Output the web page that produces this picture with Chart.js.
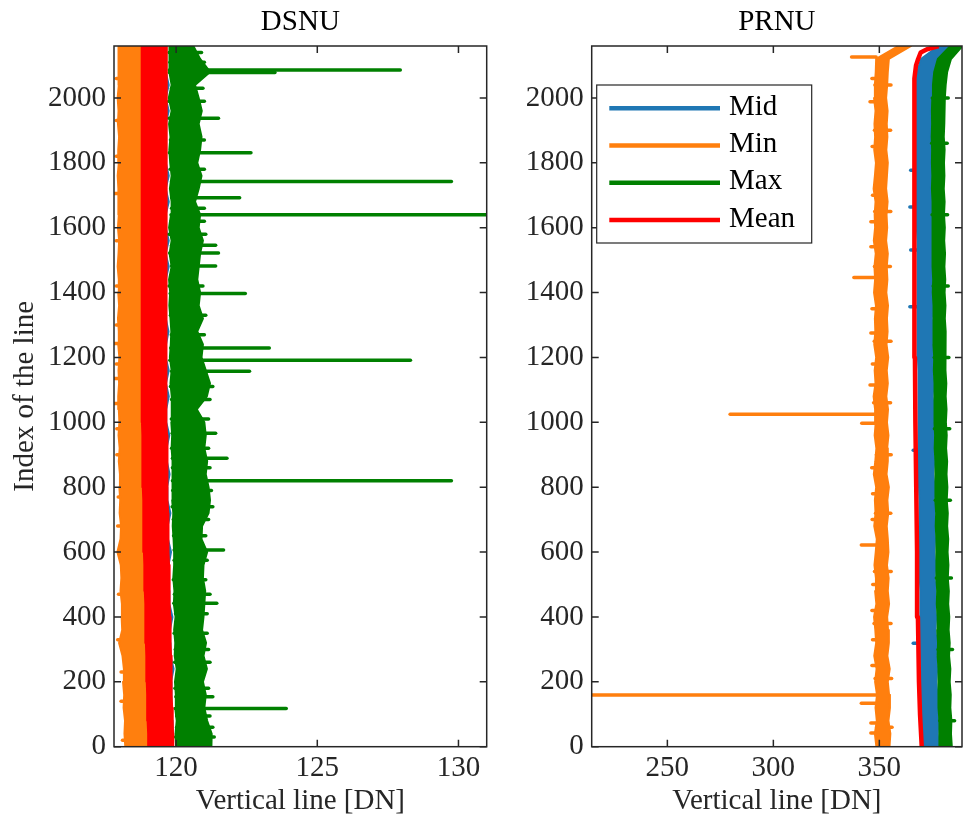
<!DOCTYPE html>
<html>
<head>
<meta charset="utf-8">
<title>DSNU / PRNU</title>
<script src="https://cdn.jsdelivr.net/npm/chart.js@4.4.1/dist/chart.umd.min.js"></script>
<style>
  body { margin: 0; background: #fff; }
  #wrap { position: relative; width: 963px; height: 825px; }
  #left { position: absolute; left: 0; top: 0; }
  #right { position: absolute; left: 500px; top: 0; }
</style>
</head>
<body>
<div id="wrap">
  <canvas id="left" width="500" height="825"></canvas>
  <canvas id="right" width="463" height="825"></canvas>
</div>
<script>
//-----------------------------------------------
// data
//-----------------------------------------------
const seriesNames = ['Mid', 'Min', 'Max', 'Mean'];
const seriesColors = ['#1f77b4', '#ff7f0e', '#008000', '#ff0000'];

const yTicks = [0, 200, 400, 600, 800, 1000, 1200, 1400, 1600, 1800, 2000];
const dsnuTicks = [120, 125, 130];
const prnuTicks = [250, 300, 350];

// line index of every sample of the band edges
const rows = [
  0, 40, 80, 120, 160, 200, 240, 280, 320, 360, 400,
  440, 480, 520, 560, 600, 640, 680, 720, 760, 800, 840,
  880, 920, 960, 1000, 1040, 1080, 1120, 1160, 1200, 1240, 1280,
  1320, 1360, 1400, 1440, 1480, 1520, 1560, 1600, 1640, 1680, 1720,
  1760, 1800, 1840, 1880, 1920, 1960, 2000, 2040, 2080, 2120, 2160
];

// DSNU : left / right edge of every noisy curve [DN]
const dsnuMinLo = [
  118.20, 118.17, 118.19, 118.14, 118.16, 118.12, 118.15, 118.10, 117.98, 118.09, 118.07,
  118.08, 118.03, 118.06, 118.04, 117.92, 118.03, 118.05, 118.00, 118.02, 117.99, 118.01,
  117.97, 118.00, 117.96, 117.99, 117.97, 117.95, 117.98, 117.96, 117.99, 117.95, 117.97,
  117.94, 117.98, 117.95, 117.97, 117.93, 117.96, 117.98, 117.94, 117.97, 117.95, 117.96,
  117.93, 117.97, 117.95, 117.98, 117.94, 117.96, 117.93, 117.97, 117.95, 117.96, 117.97
];
const dsnuMinHi = [
  119.12, 119.11, 119.10, 119.09, 119.08, 119.07, 119.06, 119.05, 119.04, 119.03, 119.02,
  119.01, 119.00, 118.99, 118.98, 118.97, 118.96, 118.95, 118.94, 118.93, 118.93, 118.92,
  118.91, 118.91, 118.90, 118.90, 118.89, 118.89, 118.88, 118.88, 118.88, 118.88, 118.88,
  118.88, 118.88, 118.88, 118.88, 118.88, 118.88, 118.88, 118.88, 118.88, 118.88, 118.88,
  118.88, 118.88, 118.88, 118.88, 118.88, 118.88, 118.88, 118.88, 118.88, 118.88, 118.88
];
const dsnuMidLo = [
  119.06, 119.05, 119.04, 119.03, 119.02, 119.01, 119.00, 118.99, 118.98, 118.97, 118.96,
  118.95, 118.94, 118.93, 118.92, 118.91, 118.90, 118.89, 118.88, 118.88, 118.87, 118.86,
  118.86, 118.85, 118.85, 118.84, 118.84, 118.83, 118.84, 118.83, 118.83, 118.84, 118.83,
  118.83, 118.83, 118.83, 118.83, 118.83, 118.83, 118.83, 118.83, 118.83, 118.83, 118.83,
  118.83, 118.83, 118.83, 118.83, 118.83, 118.83, 118.83, 118.83, 118.83, 118.83, 118.83
];
const dsnuMidHi = [
  119.88, 119.87, 119.86, 119.84, 119.83, 119.82, 119.91, 119.80, 119.79, 119.78, 119.87,
  119.76, 119.75, 119.74, 119.73, 119.82, 119.71, 119.70, 119.80, 119.69, 119.68, 119.77,
  119.67, 119.66, 119.76, 119.65, 119.65, 119.74, 119.64, 119.74, 119.63, 119.64, 119.73,
  119.63, 119.64, 119.63, 119.63, 119.74, 119.63, 119.74, 119.63, 119.63, 119.74, 119.63,
  119.74, 119.63, 119.63, 119.64, 119.63, 119.74, 119.63, 119.74, 119.63, 119.64, 119.65
];
const dsnuMaxLo = [
  120.00, 119.98, 120.02, 119.97, 119.99, 119.96, 120.02, 119.95, 119.97, 119.93, 119.98,
  119.92, 119.94, 119.90, 119.93, 119.93, 119.91, 119.88, 119.90, 119.86, 119.88, 119.87,
  119.87, 119.84, 119.86, 119.83, 119.85, 119.84, 119.80, 119.84, 119.78, 119.81, 119.83,
  119.80, 119.76, 119.79, 119.75, 119.84, 119.77, 119.84, 119.75, 119.82, 119.84, 119.78,
  119.84, 119.79, 119.76, 119.80, 119.75, 119.84, 119.74, 119.84, 119.76, 119.78, 119.75
];
const dsnuMaxHi = [
  121.25, 121.26, 121.10, 121.00, 121.05, 120.95, 121.09, 120.97, 121.06, 120.92, 120.97,
  121.00, 121.03, 120.95, 120.97, 121.10, 120.90, 120.92, 121.15, 121.20, 121.15, 121.05,
  121.10, 121.00, 121.05, 121.00, 120.73, 121.09, 121.20, 121.05, 120.90, 120.95, 120.75,
  120.95, 120.80, 120.85, 120.75, 120.80, 120.85, 120.95, 120.80, 120.85, 120.67, 120.80,
  120.90, 120.75, 120.85, 120.90, 120.80, 120.91, 120.80, 120.67, 121.20, 120.85, 120.61
];
const dsnuMeanLo = [
  119.02, 119.01, 118.99, 118.98, 118.97, 118.96, 118.95, 118.94, 118.93, 118.92, 118.91,
  118.90, 118.89, 118.88, 118.87, 118.86, 118.85, 118.84, 118.83, 118.83, 118.82, 118.81,
  118.81, 118.80, 118.80, 118.79, 118.79, 118.78, 118.79, 118.78, 118.78, 118.79, 118.78,
  118.78, 118.79, 118.78, 118.78, 118.77, 118.78, 118.79, 118.78, 118.78, 118.77, 118.78,
  118.78, 118.79, 118.78, 118.77, 118.78, 118.78, 118.79, 118.78, 118.77, 118.78, 118.78
];
const dsnuMeanHi = [
  119.90, 119.89, 119.88, 119.86, 119.85, 119.84, 119.83, 119.82, 119.81, 119.80, 119.79,
  119.78, 119.77, 119.76, 119.75, 119.74, 119.73, 119.72, 119.72, 119.71, 119.70, 119.69,
  119.69, 119.68, 119.68, 119.67, 119.67, 119.66, 119.66, 119.66, 119.65, 119.66, 119.65,
  119.65, 119.66, 119.65, 119.65, 119.66, 119.65, 119.66, 119.65, 119.65, 119.66, 119.65,
  119.66, 119.65, 119.65, 119.66, 119.65, 119.66, 119.65, 119.66, 119.65, 119.66, 119.67
];
// single-line outliers [line index, DN]
const dsnuMaxSpikes = [
  [118, 123.9], [154, 121.3], [442, 121.44], [606, 121.68], [820, 129.75], [889, 121.8],
  [966, 121.4], [1157, 122.6], [1191, 128.3], [1229, 123.3], [1397, 122.45], [1482, 121.4],
  [1522, 121.5], [1546, 121.4], [1640, 131.0], [1692, 122.25], [1742, 129.75], [1831, 122.65],
  [1937, 121.5], [2078, 123.5], [2086, 127.94],
  [30, 121.35], [60, 121.3], [95, 121.2], [180, 121.15], [260, 121.2], [300, 121.15],
  [350, 121.1], [410, 121.1], [470, 121.2], [515, 121.05], [575, 121.1], [650, 121.05],
  [700, 121.15], [740, 121.3], [790, 121.25], [860, 121.2], [920, 121.15], [1010, 121.15],
  [1070, 121.2], [1110, 121.3], [1270, 121.0], [1330, 121.05], [1420, 120.95], [1580, 121.05],
  [1620, 121.0], [1660, 121.0], [1780, 121.0], [1870, 121.0], [1990, 121.0], [2030, 120.95],
  [2110, 121.0], [2140, 120.9]
];
const dsnuMinSpikes = [
  [1058, 117.8], [1135, 117.8], [1243, 117.8], [1705, 117.8],
  [20, 118.1], [140, 118.05], [230, 118.05], [330, 117.93], [470, 117.96], [680, 117.93],
  [770, 117.95], [900, 117.9], [980, 117.9], [1180, 117.88], [1300, 117.88], [1420, 117.88],
  [1560, 117.88], [1820, 117.88], [1930, 117.88], [2060, 117.88]
];

// PRNU : left / right edge of every noisy curve [DN]
const prnuMinLo = [
  348.6, 347.9, 348.8, 348.2, 348.9, 348.0, 348.7, 347.6, 348.5, 348.1, 347.5,
  348.6, 348.0, 348.4, 347.7, 348.3, 348.8, 347.6, 348.2, 347.9, 348.5, 347.4,
  348.1, 348.6, 347.8, 348.3, 348.0, 347.3, 348.2, 347.8, 348.5, 347.6, 348.1,
  347.9, 348.4, 347.5, 348.0, 347.7, 348.3, 347.4, 348.0, 347.8, 348.2, 347.3,
  347.9, 348.4, 347.6, 348.0, 347.7, 348.2, 347.5, 347.9, 348.3, 348.5, 359.0
];
const prnuMinHi = [
  354.8, 355.2, 354.3, 355.0, 354.6, 354.0, 354.9, 353.8, 354.5, 354.1, 353.7,
  354.6, 354.0, 354.4, 353.6, 354.3, 354.0, 353.5, 354.2, 353.8, 354.5, 353.4,
  354.0, 353.7, 354.3, 353.6, 354.1, 353.3, 354.0, 353.5, 354.2, 353.4, 353.9,
  353.6, 354.1, 353.3, 353.8, 353.5, 354.0, 353.2, 353.7, 353.4, 353.9, 353.2,
  353.6, 354.0, 353.3, 353.8, 353.5, 353.9, 353.2, 353.7, 354.0, 354.5, 365.0
];
const prnuMidLo = [
  370.8, 370.5, 370.4, 370.1, 370.0, 369.8, 369.7, 369.6, 369.5, 369.4, 369.3,
  369.3, 369.2, 369.1, 369.1, 369.0, 368.9, 368.9, 368.8, 368.8, 368.7, 368.7,
  368.6, 368.6, 368.5, 368.5, 368.4, 368.4, 368.3, 368.3, 368.2, 368.2, 368.1,
  368.1, 368.0, 368.0, 367.9, 367.9, 367.8, 367.8, 367.7, 367.7, 367.6, 367.6,
  367.6, 367.5, 367.5, 367.5, 367.4, 367.4, 367.5, 367.6, 367.9, 369.6, 378.0
];
const prnuMidHi = [
  377.9, 377.6, 377.8, 377.2, 377.4, 376.9, 377.3, 376.7, 377.0, 376.5, 376.8,
  376.3, 376.6, 376.1, 376.4, 376.0, 376.3, 375.8, 376.1, 375.7, 376.0, 375.5,
  375.9, 375.4, 375.7, 375.3, 375.6, 375.2, 375.5, 375.0, 375.4, 374.9, 375.2,
  374.8, 375.1, 374.7, 375.0, 374.6, 374.9, 374.5, 374.8, 374.4, 374.7, 374.3,
  374.7, 374.4, 374.6, 374.2, 374.5, 374.3, 374.6, 374.8, 375.4, 377.2, 384.0
];
const prnuMaxLo = [
  378.4, 378.2, 378.5, 377.9, 378.1, 377.7, 377.9, 377.5, 377.7, 377.3, 377.5,
  377.1, 377.3, 376.9, 377.1, 376.8, 376.9, 376.6, 376.8, 376.4, 376.6, 376.3,
  376.5, 376.1, 376.3, 376.0, 376.2, 375.9, 376.0, 375.7, 375.9, 375.5, 375.7,
  375.4, 375.6, 375.2, 375.4, 375.1, 375.3, 375.0, 375.2, 374.9, 375.1, 374.8,
  375.0, 374.8, 374.9, 374.7, 374.9, 374.8, 375.0, 375.3, 375.9, 377.6, 383.5
];
const prnuMaxHi = [
  384.2, 383.8, 384.0, 383.5, 383.7, 383.2, 383.5, 382.9, 383.2, 382.7, 383.0,
  382.5, 382.8, 382.3, 382.6, 382.2, 382.5, 382.0, 382.3, 381.8, 382.1, 381.7,
  382.0, 381.5, 381.8, 381.4, 381.7, 381.3, 381.6, 381.2, 381.4, 381.0, 381.3,
  380.9, 381.2, 380.8, 381.1, 380.7, 381.0, 380.6, 380.9, 380.5, 380.8, 380.4,
  380.7, 380.5, 380.8, 380.4, 380.7, 380.6, 380.9, 381.3, 382.0, 383.8, 389.2
];
// the PRNU mean is a smooth curve
const prnuMeanRows = [0, 100, 200, 400, 600, 800, 1000, 1200, 1400, 1600, 1800, 2000, 2060, 2100, 2120, 2140, 2150, 2160];
const prnuMean = [370.0, 369.2, 368.7, 368.2, 367.8, 367.4, 367.0, 366.8, 366.6, 366.5, 366.4, 366.5, 366.7, 367.3, 368.3, 369.5, 372.5, 378.0];
const prnuMinSpikes = [
  [42, 346], [73, 346], [134, 341.5], [159, 214.3], [622, 341.5], [997, 341.7], [1025, 279.6],
  [1115, 345.6], [1275, 346], [1446, 338], [1541, 346], [1618, 346], [1988, 345.6], [2126, 336.9],
  [250, 346.5], [330, 346.8], [420, 346.5], [500, 346.9], [700, 346.6], [780, 346.8], [860, 346.4],
  [1180, 346.7], [1350, 346.5], [1700, 346.8], [1850, 346.6], [2060, 346.5]
];
const prnuMinBumps = [
  [60, 356.0], [210, 355.8], [380, 355.5], [540, 355.6], [720, 355.4], [900, 355.6],
  [1060, 355.3], [1250, 355.5], [1480, 355.2], [1650, 355.4], [1900, 355.3], [2040, 355.5]
];
const prnuMaxBumps = [
  [80, 385.5], [300, 384.5], [520, 384.0], [760, 383.5], [980, 383.2], [1200, 382.8],
  [1420, 382.5], [1640, 382.2], [1860, 382.0], [2000, 382.5]
];
const prnuMidSpikes = [[319, 366.0], [914, 366.0], [1356, 364.4], [1531, 364.8], [1664, 364.4], [1777, 364.8]];

//-----------------------------------------------
// helpers
//-----------------------------------------------
const FONT = 'Liberation Serif';
const AXIS = '#262626';

// up the left edge, back down the right edge -> filled band
function band(lo, hi, k, order) {
  var pts = [];
  for (var i = 0; i < rows.length; i++) pts.push({x: lo[i], y: rows[i]});
  for (var j = rows.length - 1; j >= 0; j--) pts.push({x: hi[j], y: rows[j]});
  return {
    label: seriesNames[k], data: pts, order: order,
    borderColor: seriesColors[k], backgroundColor: seriesColors[k],
    borderWidth: 2, borderJoinStyle: 'round', fill: 'shape', pointRadius: 0
  };
}

// one short horizontal stroke per outlier, starting inside the band
function spikes(list, edge, k, order) {
  return list.map(function (s) {
    var base = edge[Math.round(s[0] / 40)];
    return {
      data: [{x: base, y: s[0]}, {x: s[1], y: s[0]}], order: order,
      borderColor: seriesColors[k], borderWidth: 3.5, borderCapStyle: 'round',
      fill: false, pointRadius: 0
    };
  });
}

const frame = {
  id: 'frame',
  afterDatasetsDraw(chart) {
    var ctx = chart.ctx, a = chart.chartArea, sx = chart.scales.x, sy = chart.scales.y;
    ctx.save();
    ctx.strokeStyle = AXIS;
    ctx.lineWidth = 1.5;
    ctx.beginPath();
    sx.ticks.forEach(function (t) {
      var p = sx.getPixelForValue(t.value);
      ctx.moveTo(p, a.bottom); ctx.lineTo(p, a.bottom - 7);
      ctx.moveTo(p, a.top); ctx.lineTo(p, a.top + 7);
    });
    sy.ticks.forEach(function (t) {
      var p = sy.getPixelForValue(t.value);
      ctx.moveTo(a.left, p); ctx.lineTo(a.left + 7, p);
      ctx.moveTo(a.right, p); ctx.lineTo(a.right - 7, p);
    });
    ctx.stroke();
    ctx.strokeRect(a.left, a.top, a.right - a.left, a.bottom - a.top);
    ctx.restore();
  }
};

const panelTitle = {
  id: 'panelTitle',
  afterDraw(chart, args, opts) {
    var ctx = chart.ctx, a = chart.chartArea;
    ctx.save();
    ctx.fillStyle = '#000';
    ctx.font = '29px "' + FONT + '"';
    ctx.textAlign = 'center';
    ctx.textBaseline = 'alphabetic';
    ctx.fillText(opts.text, (a.left + a.right) / 2, 30);
    ctx.restore();
  }
};

const keyBox = {
  id: 'keyBox',
  afterDraw(chart, args, opts) {
    if (!opts.show) return;
    var ctx = chart.ctx, a = chart.chartArea;
    var x0 = a.left + 5, y0 = 85, w = 215, h = 158;
    ctx.save();
    ctx.fillStyle = '#fff';
    ctx.fillRect(x0, y0, w, h);
    ctx.strokeStyle = AXIS;
    ctx.lineWidth = 1.2;
    ctx.strokeRect(x0, y0, w, h);
    ctx.font = '29px "' + FONT + '"';
    ctx.textAlign = 'left';
    ctx.textBaseline = 'alphabetic';
    seriesNames.forEach(function (name, i) {
      var y = 108.3 + i * 37.2;
      ctx.strokeStyle = seriesColors[i];
      ctx.lineWidth = 4.5;
      ctx.beginPath();
      ctx.moveTo(x0 + 12.6, y);
      ctx.lineTo(x0 + 123.3, y);
      ctx.stroke();
      ctx.fillStyle = '#000';
      ctx.fillText(name, x0 + 132.3, y + 6.7);
    });
    ctx.restore();
  }
};

function makeChart(id, o) {
  return new Chart(document.getElementById(id), {
    type: 'line',
    data: { datasets: o.datasets },
    options: {
      responsive: false,
      animation: false,
      events: [],
      layout: { padding: { top: 46, right: o.padRight, left: 0, bottom: 0 } },
      elements: { line: { tension: 0 }, point: { radius: 0 } },
      plugins: {
        legend: { display: false },
        tooltip: { enabled: false },
        panelTitle: { text: o.title },
        keyBox: { show: o.legend }
      },
      scales: {
        x: {
          type: 'linear', position: 'bottom', min: o.xMin, max: o.xMax,
          afterBuildTicks: function (s) { s.ticks = o.xTicks.map(function (v) { return {value: v}; }); },
          afterFit: function (s) { s.height = 78.3; },
          grid: { display: false, drawTicks: false },
          border: { display: false },
          ticks: { padding: 4, color: AXIS, font: { family: FONT, size: 29 }, callback: function (v) { return String(v); } },
          title: { display: true, text: 'Vertical line [DN]', color: AXIS, padding: { top: 0, bottom: 6 }, font: { family: FONT, size: 29 } }
        },
        y: {
          type: 'linear', position: 'left', min: 0, max: 2160,
          afterBuildTicks: function (s) { s.ticks = yTicks.map(function (v) { return {value: v}; }); },
          afterFit: function (s) { s.width = o.yWidth; },
          grid: { display: false, drawTicks: false },
          border: { display: false },
          ticks: { padding: 8, color: AXIS, font: { family: FONT, size: 29 }, callback: function (v) { return String(v); } },
          title: { display: o.yTitle, text: 'Index of the line', color: AXIS, padding: { top: 8, bottom: 0 }, font: { family: FONT, size: 29 } }
        }
      }
    },
    plugins: [frame, panelTitle, keyBox]
  });
}

//-----------------------------------------------
// DSNU
//-----------------------------------------------
var dsnuSets = [
  band(dsnuMidLo, dsnuMidHi, 0, 4),
  band(dsnuMinLo, dsnuMinHi, 1, 3),
  band(dsnuMaxLo, dsnuMaxHi, 2, 2),
  band(dsnuMeanLo, dsnuMeanHi, 3, 1)
].concat(spikes(dsnuMinSpikes, dsnuMinLo, 1, 3), spikes(dsnuMaxSpikes, dsnuMaxLo, 2, 2));

makeChart('left', {
  title: 'DSNU', datasets: dsnuSets, xMin: 117.8, xMax: 131.0, xTicks: dsnuTicks,
  yWidth: 114, yTitle: true, padRight: 13.3, legend: false
});

//-----------------------------------------------
// PRNU
//-----------------------------------------------
var prnuSets = [
  band(prnuMidLo, prnuMidHi, 0, 4),
  band(prnuMinLo, prnuMinHi, 1, 3),
  band(prnuMaxLo, prnuMaxHi, 2, 2),
  {
    label: 'Mean', order: 1,
    data: prnuMeanRows.map(function (r, i) { return {x: prnuMean[i], y: r}; }),
    borderColor: seriesColors[3], borderWidth: 4.5, borderJoinStyle: 'round', fill: false, pointRadius: 0
  }
].concat(
  spikes(prnuMidSpikes, prnuMidLo, 0, 4),
  spikes(prnuMinSpikes, prnuMinLo, 1, 3),
  spikes(prnuMinBumps, prnuMinLo, 1, 3),
  spikes(prnuMaxBumps, prnuMaxLo, 2, 2)
);

makeChart('right', {
  title: 'PRNU', datasets: prnuSets, xMin: 214.3, xMax: 389.0, xTicks: prnuTicks,
  yWidth: 91.7, yTitle: false, padRight: 1, legend: true
});
</script>
</body>
</html>
